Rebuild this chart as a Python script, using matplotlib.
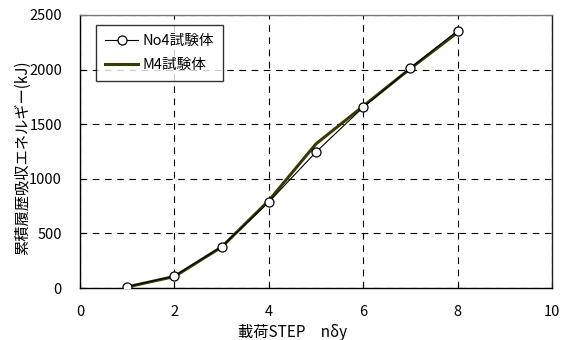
import matplotlib
matplotlib.use("Agg")
import matplotlib.pyplot as plt

plt.rcParams['font.family'] = ['Noto Sans CJK JP', 'DejaVu Sans']

steps = [1, 2, 3, 4, 5, 6, 7, 8]
no4_energy = [12, 110, 378, 787, 1245, 1655, 2015, 2356]
m4_energy = [10, 105, 375, 800, 1320, 1665, 2010, 2340]

x_ticks = [0, 2, 4, 6, 8, 10]
y_ticks = [0, 500, 1000, 1500, 2000, 2500]

W, H = 565, 340
fig = plt.figure(figsize=(W/100, H/100), dpi=100)
ax = fig.add_axes([80/W, 1-288/H, (552-80)/W, (288-15)/H])

ax.plot(steps, m4_energy, color='#3a3a00', lw=2.2, label='M4試験体', zorder=3)
ax.plot(steps, no4_energy, color='black', lw=0.8, marker='o', ms=6.5,
        mfc='white', mec='black', mew=0.9, label='No4試験体', zorder=4)

ax.set_xlim(0, 10)
ax.set_ylim(0, 2500)
ax.set_xticks(x_ticks)
ax.set_yticks(y_ticks)
ax.grid(True, color='black', ls=(0, (6, 5)), lw=0.8)
ax.tick_params(axis='y', direction='in', length=4, labelsize=10.5, pad=13)
ax.tick_params(axis='x', direction='in', length=4, labelsize=10.5, pad=12)
for s in ax.spines.values():
    s.set_linewidth(1.0)
ax.spines['top'].set_color('#777777')
ax.spines['right'].set_color('#222222')

fig.text(293/W, 1-332/H, '載荷STEP　nδy', fontsize=11, ha='center', va='center')
fig.text(23/W, 1-158/H, '累積履歴吸収エネルギー(kJ)', fontsize=11,
         ha='center', va='center', rotation=90)

handles, labels = ax.get_legend_handles_labels()
leg = ax.legend(handles[::-1], labels[::-1], loc='upper left',
                bbox_to_anchor=(0.034, 0.963), borderaxespad=0,
                fontsize=10.5, frameon=True,
                fancybox=False, edgecolor='black', handlelength=2.3,
                borderpad=0.6, labelspacing=0.7, handletextpad=0.3)
leg.get_frame().set_linewidth(1.0)

fig.savefig('out.png', dpi=100)
